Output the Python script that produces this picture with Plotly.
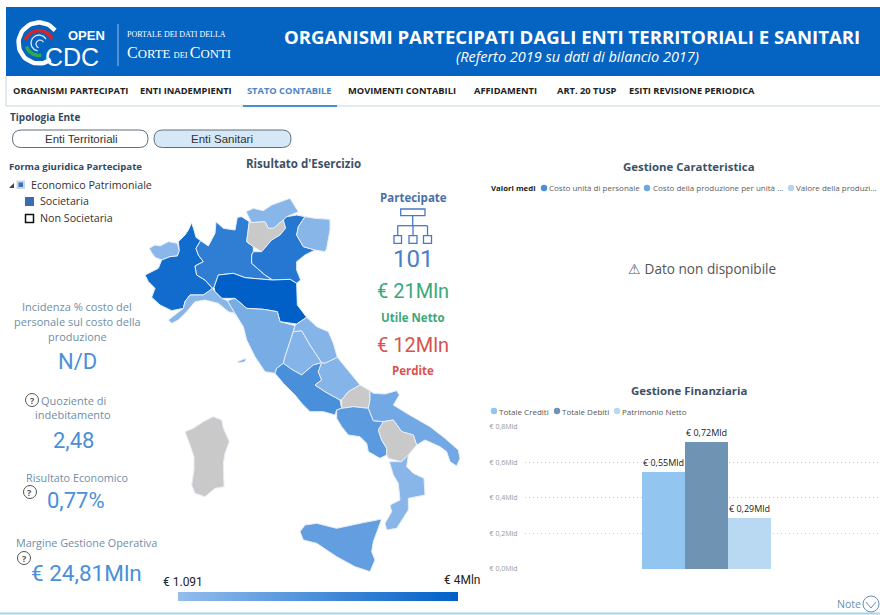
import numpy as np
import plotly.graph_objects as go
from plotly.colors import sample_colorscale

W, H = 880, 615
# ---------- data ----------
bar_categories = ["Totale Crediti", "Totale Debiti", "Patrimonio Netto"]
bar_values = [0.55, 0.72, 0.29]
bar_labels = ["€ 0,55Mld", "€ 0,72Mld", "€ 0,29Mld"]
bar_colors = ["#92c5f0", "#6f93b3", "#b9d8f2"]
y_ticks = [0, 0.2, 0.4, 0.6, 0.8]
y_ticktext = ["€ 0,0Mld", "€ 0,2Mld", "€ 0,4Mld", "€ 0,6Mld", "€ 0,8Mld"]

region_names = ["Valle d'Aosta", "Piemonte", "Lombardia", "Alto Adige", "Trentino", "Veneto", "Friuli", "Emilia-Romagna",
                "Liguria", "Toscana", "Umbria", "Marche", "Lazio", "Abruzzo", "Molise", "Campania", "Puglia",
                "Basilicata", "Calabria", "Sicilia", "Sardegna"]
# Risultato d'esercizio, in milioni (None = nessun dato)
region_values = [0.25, 3.5, 2.7, 0.3, None, 3.0, 0.3, 4.0,
                 0.3, 0.75, 0.4, 0.4, 2.0, 0.4, None, 1.5, 0.9,
                 None, 0.3, 1.3, None]
value_min, value_max = 0.001091, 4.0
map_scale = [[0, "#93bdec"], [1, "#0060c8"]]
no_data_color = "#c9c9c9"

# outlines, in map units
region_outlines = [
 [(28,205),(45,195),(60,198),(85,185),(112,190),(118,212),(112,228),(90,230),(65,240),(45,232),(35,218)],
 [(15,285),(35,275),(55,265),(65,240),(90,230),(112,228),(118,212),(115,185),(135,165),(145,150),(155,128),(162,150),(168,172),(182,182),(168,205),(175,225),(190,245),(165,258),(170,285),(195,300),(218,325),(205,335),(190,345),(150,345),(135,365),(130,385),(95,392),(60,375),(35,352),(45,325),(25,305)],
 [(182,182),(205,198),(225,160),(228,125),(250,145),(285,150),(292,112),(305,110),(328,125),(320,185),(340,200),(340,215),(335,225),(335,250),(375,285),(398,300),(360,297),(315,293),(280,280),(235,285),(222,322),(218,325),(195,300),(170,285),(165,258),(190,245),(175,225),(168,205)],
 [(318,95),(340,85),(370,92),(395,75),(450,55),(475,95),(440,110),(430,120),(400,145),(385,145),(375,125),(335,128)],
 [(328,125),(335,128),(375,125),(385,145),(400,145),(430,120),(437,145),(420,165),(395,180),(365,215),(340,200),(320,185)],
 [(340,215),(365,215),(395,180),(420,165),(437,145),(430,120),(440,110),(470,105),(495,110),(475,140),(470,165),(490,200),(525,210),(495,225),(470,245),(470,270),(482,300),(470,310),(450,298),(398,300),(375,285),(335,250),(335,225)],
 [(475,140),(495,110),(525,115),(570,118),(570,150),(560,205),(555,215),(525,210),(490,200),(470,165)],
 [(222,322),(235,285),(280,280),(315,293),(360,297),(398,300),(450,298),(470,310),(472,375),(500,412),(470,432),(420,425),(412,395),(370,388),(320,385),(285,355),(245,355),(225,335)],
 [(85,420),(110,400),(130,385),(135,365),(150,345),(190,345),(205,335),(218,325),(225,335),(245,355),(262,362),(285,400),(265,395),(235,370),(195,360),(165,365),(140,395),(115,420),(95,430)],
 [(262,362),(285,355),(320,385),(370,388),(412,395),(420,425),(465,437),(460,455),(450,485),(435,530),(430,550),(410,565),(405,580),(375,575),(345,530),(320,480),(310,440),(285,400),(262,362),None,(292,545),(318,535),(315,545),(298,548)],
 [(460,455),(485,452),(510,495),(545,548),(520,555),(485,585),(455,568),(430,550),(435,530),(450,485)],
 [(470,432),(500,412),(530,440),(565,455),(580,490),(592,532),(555,550),(545,548),(510,495),(485,452),(460,455),(465,437)],
 [(410,565),(430,550),(455,568),(485,585),(520,555),(545,548),(535,575),(545,600),(525,615),(555,635),(600,660),(605,685),(590,690),(585,705),(550,695),(510,695),(485,670),(465,645),(430,610),(405,580)],
 [(545,548),(555,550),(592,532),(620,565),(660,615),(625,635),(605,660),(600,660),(555,635),(525,615),(545,600),(535,575)],
 [(605,660),(625,635),(660,615),(690,632),(690,660),(685,685),(640,680),(605,685)],
 [(590,690),(605,685),(640,680),(685,685),(700,722),(730,725),(715,750),(725,780),(740,805),(740,825),(720,835),(685,815),(680,790),(660,770),(625,765),(605,740),(590,715)],
 [(700,640),(735,642),(770,632),(778,645),(760,675),(800,700),(870,740),(915,775),(955,810),(960,835),(950,858),(930,845),(920,815),(900,800),(855,780),(830,795),(820,765),(785,755),(760,720),(730,725),(700,722),(685,685),(690,660),(690,632)],
 [(715,750),(730,725),(760,720),(785,755),(820,765),(830,795),(805,825),(785,845),(745,835),(740,825),(740,805),(725,780)],
 [(748,845),(785,845),(805,825),(800,860),(820,880),(852,895),(855,945),(805,955),(805,990),(770,1045),(740,1050),(735,1030),(755,995),(750,975),(780,960),(775,910),(760,885)],
 [(480,1055),(495,1035),(530,1030),(590,1045),(660,1030),(725,1017),(700,1085),(695,1115),(705,1140),(690,1175),(645,1160),(590,1130),(530,1090),(490,1080)],
 [(135,755),(150,750),(160,745),(190,725),(220,710),(245,720),(250,745),(268,785),(255,820),(250,850),(252,920),(225,925),(195,950),(165,940),(155,915),(162,870),(162,830),(150,795)],
]

# ---------- helpers ----------
def px(x): return x / W
def py(y): return 1 - y / H

anns, shapes = [], []
def T(text, x, y, size=12, color="#333", anchor="left", font="Open Sans", bold=False):
    anchor = "center" if anchor == "middle" else anchor
    anns.append(dict(text=f"<b>{text}</b>" if bold else text, x=px(x), y=py(y), xref="paper", yref="paper",
                     xanchor=anchor, yanchor="middle", showarrow=False, align=anchor,
                     font=dict(size=size, color=color, family=font), borderpad=0, borderwidth=0))
def R(x0, y0, x1, y1, fill=None, line=None, lw=1, layer="above"):
    shapes.append(dict(type="rect", xref="x2", yref="y2", x0=x0, y0=y0, x1=x1, y1=y1, layer=layer,
                       fillcolor=fill or "rgba(0,0,0,0)", line=dict(color=line or "rgba(0,0,0,0)", width=lw if line else 0)))
def C(cx, cy, r, fill=None, line=None, lw=1):
    shapes.append(dict(type="circle", xref="x2", yref="y2", x0=cx-r, y0=cy-r, x1=cx+r, y1=cy+r, layer="above",
                       fillcolor=fill or "rgba(0,0,0,0)", line=dict(color=line or "rgba(0,0,0,0)", width=lw if line else 0)))
def L(x0, y0, x1, y1, color, lw=1, dash="solid"):
    shapes.append(dict(type="line", xref="x2", yref="y2", x0=x0, y0=y0, x1=x1, y1=y1, layer="above", line=dict(color=color, width=lw, dash=dash)))
def P(path, fill=None, line=None, lw=1):
    shapes.append(dict(type="path", xref="x2", yref="y2", path=path, layer="above",
                       fillcolor=fill or "rgba(0,0,0,0)", line=dict(color=line or "rgba(0,0,0,0)", width=lw if line else 0)))
def pill(x0, y0, x1, y1, fill, line):
    r = (y1 - y0) / 2
    P(f"M{x0+r},{y0} L{x1-r},{y0} Q{x1},{y0} {x1},{y0+r} Q{x1},{y1} {x1-r},{y1} L{x0+r},{y1} Q{x0},{y1} {x0},{y0+r} Q{x0},{y0} {x0+r},{y0} Z", fill, line, 1)

fig = go.Figure()

# ---------- map ----------
colors = [no_data_color if v is None else
          sample_colorscale(map_scale, (v - value_min) / (value_max - value_min))[0] for v in region_values]
for name, pts, col in zip(region_names, region_outlines, colors):
    last_start = len(pts) - 1 - pts[::-1].index(None) + 1 if None in pts else 0
    closed = pts + [pts[last_start]]
    xs = [p[0] if p else None for p in closed]
    ys = [p[1] if p else None for p in closed]
    fig.add_trace(go.Scatter(x=xs, y=ys, xaxis="x3", yaxis="y3", mode="lines", fill="toself",
                             fillcolor=col, line=dict(color="#e6eef7", width=1), name=name, showlegend=False, hoverinfo="name"))
# colour scale bar
known = [v for v in region_values if v is not None]
fig.add_trace(go.Scatter(x=[-9999] * len(known), y=[-9999] * len(known), xaxis="x3", yaxis="y3", mode="markers", showlegend=False, hoverinfo="skip",
                         marker=dict(color=known, colorscale=map_scale, cmin=value_min, cmax=value_max, showscale=True,
                                     colorbar=dict(orientation="h", x=px(178), xanchor="left", y=py(601), yanchor="bottom",
                                                   len=280, lenmode="pixels", thickness=9, thicknessmode="pixels",
                                                   outlinewidth=0, showticklabels=False, ticks="", xpad=0, ypad=0, borderwidth=0))))

# ---------- bars ----------
for cat, val, lab, col in zip(bar_categories, bar_values, bar_labels, bar_colors):
    fig.add_trace(go.Bar(x=[cat], y=[val], name=cat, marker=dict(color=col, line=dict(width=0)), text=[lab], textposition="outside",
                         textfont=dict(size=9, color="#222", family="Open Sans"), cliponaxis=False, showlegend=False))

# ---------- header ----------
R(6, 7, 880, 76, fill="#0563c1", layer="below")
L(6, 106, 880, 106, "#c6d6dc", 1.2)
L(6, 76, 6, 106, "#c6d6dc", 1)
L(243, 106, 337, 106, "#4a90d0", 2)
L(0, 613.5, 880, 613.5, "#a5d3f2", 2)

# logo
def arc(cx, cy, r, a0, a1, color, w):
    a = np.radians(np.linspace(a0, a1, 40))
    fig.add_trace(go.Scatter(x=cx + r*np.cos(a), y=cy - r*np.sin(a), xaxis="x2", yaxis="y2", mode="lines",
                             line=dict(color=color, width=w), showlegend=False, hoverinfo="skip"))
arc(39, 43, 20.5, 38, 305, "#ffffff", 4.5)
arc(39, 45, 14.5, 25, 160, "#d4252a", 3.5)
arc(39, 42, 13.5, 200, 280, "#2fa84f", 3.5)
arc(39, 43, 8, 30, 260, "#dfeaf6", 1.3)
arc(40, 44, 4, 30, 250, "#dfeaf6", 1.2)
T("OPEN", 68, 35.5, 13, "#ffffff", font="Liberation Sans", bold=True)
T("CDC", 45, 57, 25, "#ffffff", font="Liberation Sans")
L(118, 24, 118, 66, "#9cc2ea", 1)
T("PORTALE DEI DATI DELLA", 127, 35, 8, "#ffffff", font="Liberation Serif")
T('C<span style="font-size:12.8px">ORTE </span><span style="font-size:8.5px">DEI </span>C<span style="font-size:12.8px">ONTI</span>',
  127, 52, 16, "#ffffff", font="Liberation Serif")
T("ORGANISMI PARTECIPATI DAGLI ENTI TERRITORIALI E SANITARI", 572, 36, 18.6, "#ffffff", "middle", bold=True)
T("<i>(Referto 2019 su dati di bilancio 2017)</i>", 577, 57, 14.5, "#ffffff", "middle")

# nav
for txt, x, col in [("ORGANISMI PARTECIPATI", 13, "#222"), ("ENTI INADEMPIENTI", 140, "#222"), ("STATO CONTABILE", 247, "#4a86c5"),
                    ("MOVIMENTI CONTABILI", 348, "#222"), ("AFFIDAMENTI", 474, "#222"), ("ART. 20 TUSP", 557, "#222"),
                    ("ESITI REVISIONE PERIODICA", 629, "#222")]:
    T(txt, x, 91, 9.3, col, bold=True)

# slicers
T("Tipologia Ente", 10, 117, 10, "#34495e", bold=True)
pill(12.5, 130, 148, 147.5, "#ffffff", "#5f6f78")
pill(154, 130, 291, 147.5, "#d6e8f7", "#5f6f78")
T("Enti Territoriali", 81, 139, 11.5, "#333", "middle", "Liberation Sans")
T("Enti Sanitari", 222, 139, 11.5, "#333", "middle", "Liberation Sans")
T("Forma giuridica Partecipate", 9, 166, 9.6, "#34495e", bold=True)
P("M9,188 L14,183 L14,188 Z", "#444444")
R(16.5, 180.5, 25, 189, fill="#c8d6e8")
R(18.5, 182.5, 23, 187, fill="#3e72b8")
T("Economico Patrimoniale", 31, 185, 10.7, "#333")
R(25, 197, 34, 206, fill="#3a6cae")
T("Societaria", 40, 201, 10.7, "#333")
R(25.5, 214.5, 33.5, 222.5, line="#111111", lw=1.5)
T("Non Societaria", 40, 218, 10.7, "#333")

T("Risultato d'Esercizio", 303, 164, 11.5, "#3d5066", "middle", bold=True)

# centre KPIs
T("Partecipate", 413, 197, 11.5, "#4a6fa8", "middle", bold=True)
ic = "#4a78c8"
R(400.7, 209, 425, 215.7, line=ic, lw=1.3)
L(412.7, 215.7, 412.7, 225.7, ic, 1.3)
L(397.5, 225.7, 427.5, 225.7, ic, 1.3)
for xa, xb in [(394, 401.5), (409, 417), (423.5, 431.5)]:
    L((xa+xb)/2, 225.7, (xa+xb)/2, 235.7, ic, 1.3)
    R(xa, 235.7, xb, 243.3, line=ic, lw=1.3)
NUM = "Roboto"
T("101", 413, 259, 24, "#4a80c8", "middle", NUM)
T("€ 21Mln", 413, 291, 20, "#3aa87a", "middle", NUM)
T("Utile Netto", 413, 317, 11.5, "#3aa87a", "middle", bold=True)
T("€ 12Mln", 413, 345, 20, "#d9534f", "middle", NUM)
T("Perdite", 413, 370, 11.5, "#d9534f", "middle", bold=True)

# left KPIs
lab = "#6f8ea8"; blue = "#4a90d9"
T("Incidenza % costo del", 77, 306, 11, lab, "middle")
T("personale sul costo della", 77, 321, 11, lab, "middle")
T("produzione", 77, 336, 11, lab, "middle")
T("N/D", 77, 361, 22, blue, "middle", NUM)
def qmark(x, y):
    C(x, y, 6.5, line="#555555", lw=1)
    T("?", x, y, 9, "#555555", "middle", bold=True)
qmark(32, 400)
T("Quoziente di", 41, 400, 11, lab)
T("indebitamento", 73, 414, 11, lab, "middle")
T("2,48", 73, 440, 22, blue, "middle", NUM)
T("Risultato Economico", 26, 477, 10.8, lab)
qmark(30, 492)
T("0,77%", 76, 501, 22, blue, "middle", NUM)
T("Margine Gestione Operativa", 16, 542, 10.8, lab)
qmark(24, 558)
T("€ 24,81Mln", 86, 573, 22.5, blue, "middle", NUM)

# map legend labels
T("€ 1.091", 163, 582, 12, "#222", font=NUM)
T("€ 4Mln", 481, 580, 12, "#222", "right", NUM)

# Gestione Caratteristica
T("Gestione Caratteristica", 689, 167, 11.4, "#3d5066", "middle", bold=True)
T("Valori medi", 491, 187.5, 7.8, "#222", bold=True)
for cx, tx, txt, col in [(544, 549, "Costo unità di personale", "#4a90d9"), (647, 653, "Costo della produzione per unità ...", "#6ea6e6"),
                         (791, 796, "Valore della produzi...", "#b8d4f2")]:
    C(cx, 188, 3.2, fill=col)
    T(txt, tx, 187.5, 8, "#605e5c")
T("⚠ Dato non disponibile", 702, 268, 13.6, "#555555", "middle")

# Gestione Finanziaria
T("Gestione Finanziaria", 689, 390, 11.4, "#3d5066", "middle", bold=True)
for cx, tx, txt, col in [(494, 499, bar_categories[0], bar_colors[0]), (557, 562, bar_categories[1], bar_colors[1]), (617, 622, bar_categories[2], bar_colors[2])]:
    C(cx, 411, 3.2, fill=col)
    T(txt, tx, 411, 8, "#555555")

# Note
T("Note", 849, 604, 10.5, "#6a8fb0", "middle")
C(871, 604, 8, line="#6a8fb0", lw=1)
P("M866,602 L871,608 L876,602", line="#6a8fb0", lw=1)

hidden = dict(visible=False, fixedrange=True, domain=[0, 1])
unit = 42.7
fig.update_layout(
    width=W, height=H, margin=dict(l=0, r=0, t=0, b=0), autosize=False,
    paper_bgcolor="white", plot_bgcolor="rgba(0,0,0,0)", barmode="overlay", bargap=0,
    annotations=anns, shapes=shapes, hovermode="closest",
    xaxis=dict(domain=[525/W, 1], type="category", categoryorder="array", categoryarray=bar_categories,
               range=[1 - (706.5-525)/unit, 1 + (880-706.5)/unit], showticklabels=False, showgrid=False, zeroline=False, ticks="", fixedrange=True),
    yaxis=dict(domain=[1 - 569/H, 1 - 426.5/H], range=[-0.002, 0.802], tickvals=y_ticks, ticktext=y_ticktext, gridcolor="#c8c8c8", griddash="1px,3px", gridwidth=1,
               zeroline=False, tickfont=dict(size=7, color="#999999", family="Open Sans"), ticks="outside", ticklen=5, tickcolor="rgba(0,0,0,0)",
               fixedrange=True, automargin=False, showline=False),
    xaxis2=dict(hidden, range=[0, W], anchor="y2"),
    yaxis2=dict(hidden, range=[H, 0], anchor="x2"),
    xaxis3=dict(hidden, range=[(0-140)*3, (W-140)*3], anchor="y3"),
    yaxis3=dict(hidden, range=[(H-180)*3, (0-180)*3], anchor="x3"),
)
fig.write_html("out.html", config={"displayModeBar": False},
               post_script="document.body.style.margin='0';document.documentElement.style.overflow='hidden';")
